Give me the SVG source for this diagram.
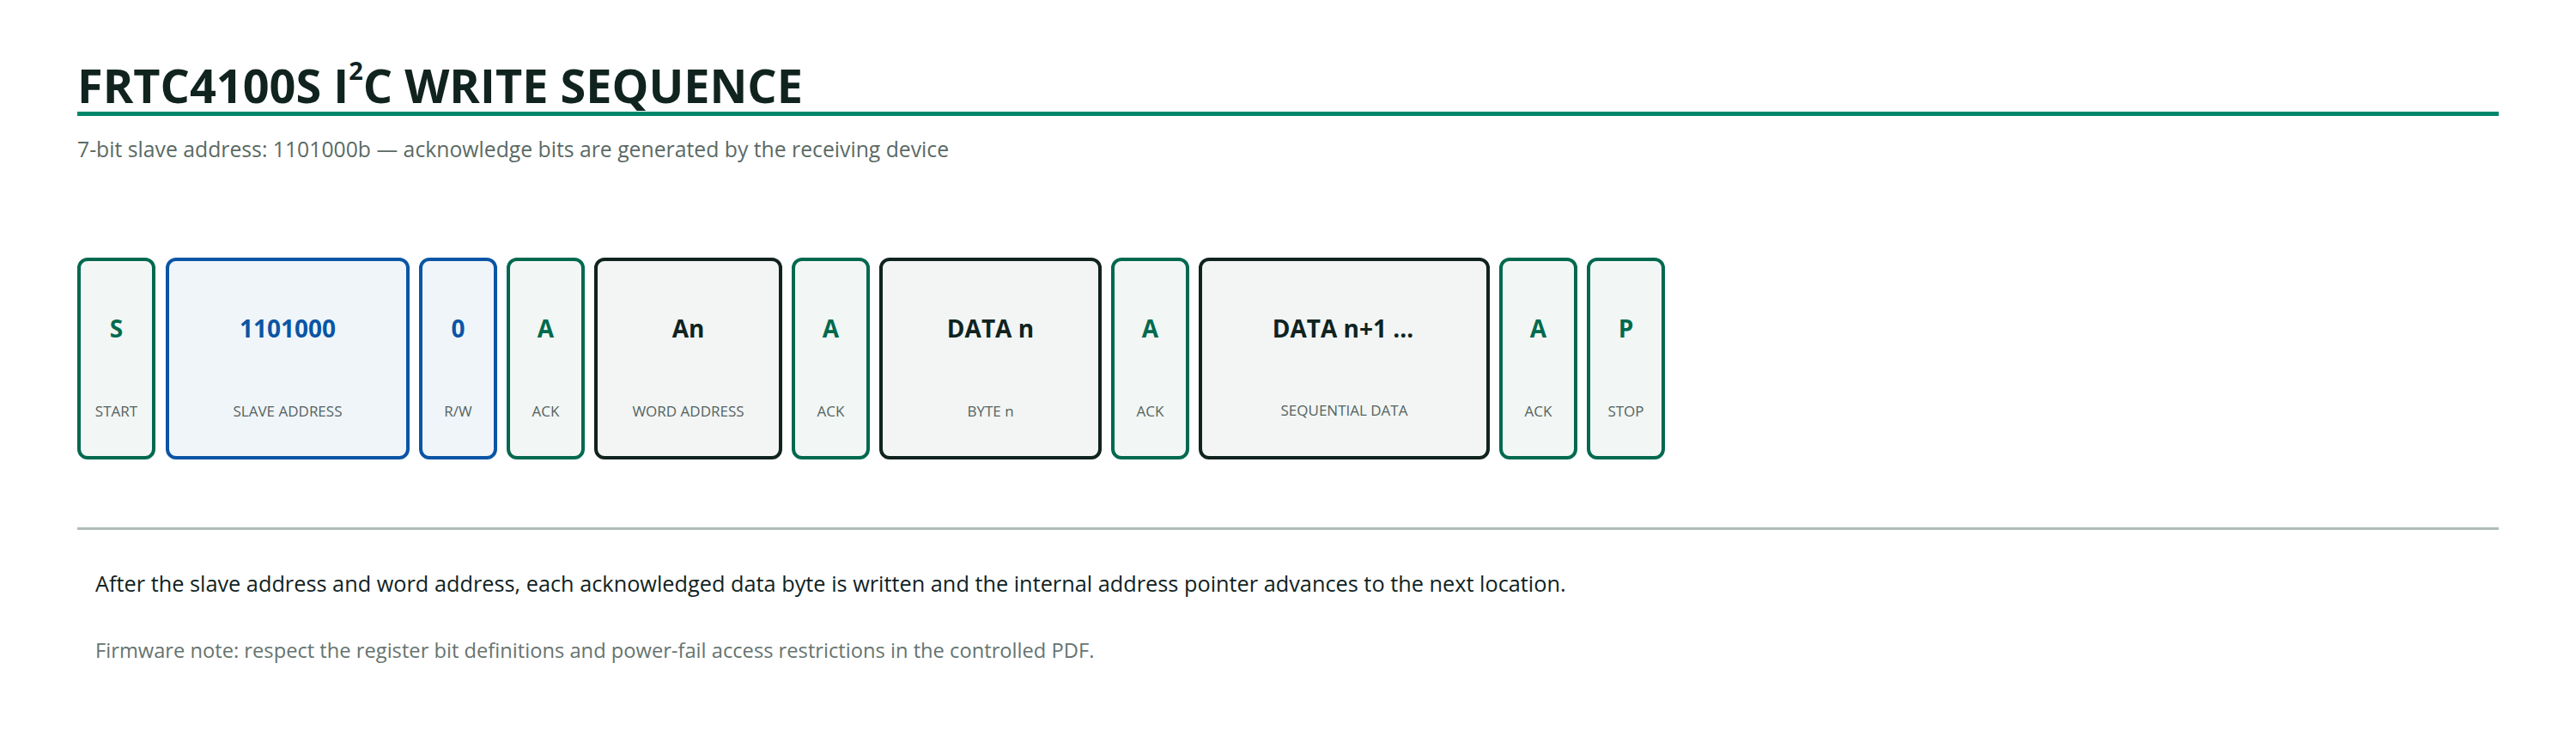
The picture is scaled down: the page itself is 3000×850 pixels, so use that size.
<svg xmlns="http://www.w3.org/2000/svg" width="3000" height="850" viewBox="0 0 3000 850">
<style>
  text { font-family: "Open Sans", "Noto Sans", "Liberation Sans", sans-serif; }
  .title { font-size: 54px; font-weight: 700; fill: #10231f; }
  .sup { font-size: 29px; font-weight: 700; fill: #10231f; }
  .subtitle { font-size: 24.75px; fill: #5b6a65; }
  .para { font-size: 25.3px; fill: #10231f; }
  .note { font-size: 23.7px; fill: #66746f; }
  .box { stroke-width: 4; }
  .green .box { fill: #f2f6f4; stroke: #00694f; }
  .blue .box { fill: #f0f5fa; stroke: #0a55a5; }
  .dark .box { fill: #f2f5f4; stroke: #10231f; }
  .main { font-size: 28px; font-weight: 700; text-anchor: middle; }
  .green .main { fill: #006a4e; }
  .blue .main { fill: #0b55a4; }
  .dark .main { fill: #10231f; }
  .sub { font-size: 17px; fill: #55635f; text-anchor: middle; }
</style>
<rect x="0" y="0" width="3000" height="850" fill="#ffffff"/>
<g id="header">
  <text class="title" x="90" y="120">FRTC4100S I<tspan class="sup" dy="-27">2</tspan><tspan dy="27">C WRITE SEQUENCE</tspan></text>
  <rect x="90" y="130" width="2820" height="5" fill="#00876a"/>
  <text class="subtitle" x="90" y="183">7-bit slave address: 1101000b — acknowledge bits are generated by the receiving device</text>
</g>
<g id="node-start" class="green">
  <rect class="box" x="92" y="302" width="87" height="231" rx="10"/>
  <text class="main" x="135.5" y="393">S</text>
  <text class="sub" x="135.5" y="485">START</text>
</g>
<g id="node-slave-address" class="blue">
  <rect class="box" x="195" y="302" width="280" height="231" rx="10"/>
  <text class="main" x="335" y="393">1101000</text>
  <text class="sub" x="335" y="485">SLAVE ADDRESS</text>
</g>
<g id="node-rw" class="blue">
  <rect class="box" x="490" y="302" width="87" height="231" rx="10"/>
  <text class="main" x="533.5" y="393">0</text>
  <text class="sub" x="533.5" y="485">R/W</text>
</g>
<g id="node-ack1" class="green">
  <rect class="box" x="592" y="302" width="87" height="231" rx="10"/>
  <text class="main" x="635.5" y="393">A</text>
  <text class="sub" x="635.5" y="485">ACK</text>
</g>
<g id="node-word-address" class="dark">
  <rect class="box" x="694" y="302" width="215" height="231" rx="10"/>
  <text class="main" x="801.5" y="393">An</text>
  <text class="sub" x="801.5" y="485">WORD ADDRESS</text>
</g>
<g id="node-ack2" class="green">
  <rect class="box" x="924" y="302" width="87" height="231" rx="10"/>
  <text class="main" x="967.5" y="393">A</text>
  <text class="sub" x="967.5" y="485">ACK</text>
</g>
<g id="node-data-n" class="dark">
  <rect class="box" x="1026" y="302" width="255" height="231" rx="10"/>
  <text class="main" x="1153.5" y="393">DATA n</text>
  <text class="sub" x="1153.5" y="485">BYTE n</text>
</g>
<g id="node-ack3" class="green">
  <rect class="box" x="1296" y="302" width="87" height="231" rx="10"/>
  <text class="main" x="1339.5" y="393">A</text>
  <text class="sub" x="1339.5" y="485">ACK</text>
</g>
<g id="node-data-n1" class="dark">
  <rect class="box" x="1398" y="302" width="335" height="231" rx="10"/>
  <text class="main" x="1564" y="393">DATA n+1 …</text>
  <text class="sub" x="1565.5" y="484">SEQUENTIAL DATA</text>
</g>
<g id="node-ack4" class="green">
  <rect class="box" x="1748" y="302" width="87" height="231" rx="10"/>
  <text class="main" x="1791.5" y="393">A</text>
  <text class="sub" x="1791.5" y="485">ACK</text>
</g>
<g id="node-stop" class="green">
  <rect class="box" x="1850" y="302" width="87" height="231" rx="10"/>
  <text class="main" x="1893.5" y="393">P</text>
  <text class="sub" x="1893.5" y="485">STOP</text>
</g>
<g id="connectors"></g>
<g id="footer">
  <rect x="90" y="614" width="2820" height="3" fill="#afbdb8"/>
  <text class="para" x="111" y="689">After the slave address and word address, each acknowledged data byte is written and the internal address pointer advances to the next location.</text>
  <text class="note" x="111" y="766">Firmware note: respect the register bit definitions and power-fail access restrictions in the controlled PDF.</text>
</g>
</svg>
